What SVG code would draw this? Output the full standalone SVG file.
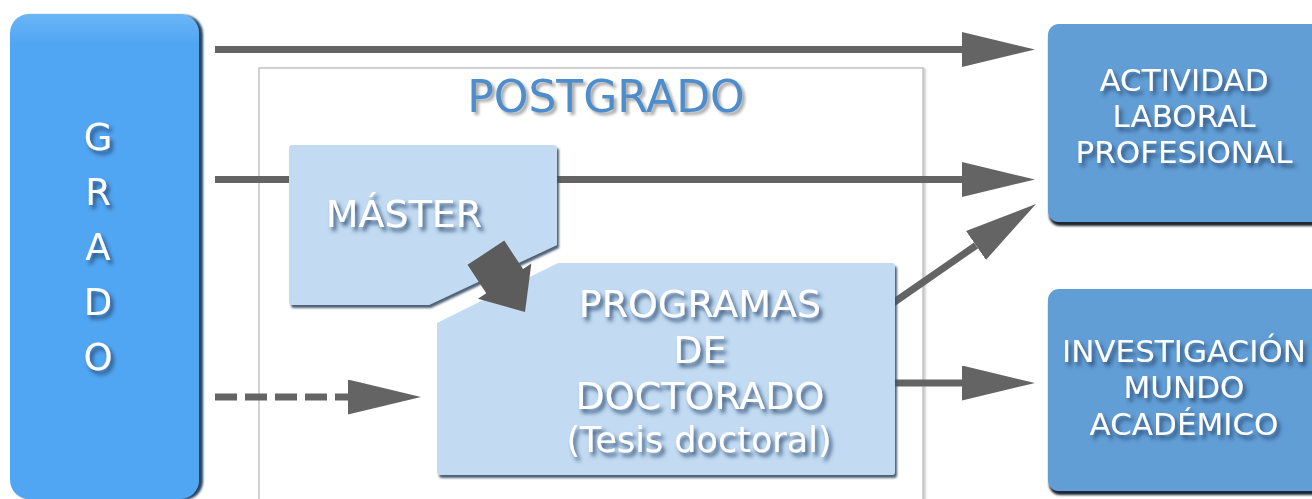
<svg xmlns="http://www.w3.org/2000/svg" width="1312" height="499" viewBox="0 0 1312 499">
<defs>
<style>
.txt{font-family:"DejaVu Sans","Liberation Sans",sans-serif;fill:#ffffff;text-anchor:middle;filter:url(#tshadow)}
.line{stroke:#646464;stroke-width:7;fill:none}
.box-light{fill:#c2dbf2;filter:url(#bshadow)}
.box-mid{fill:#629ed6;filter:url(#bshadow2)}
</style>
<filter id="tshadow" x="-20%" y="-40%" width="140%" height="180%">
<feGaussianBlur in="SourceAlpha" stdDeviation="2" result="b"/>
<feOffset in="b" dx="3" dy="3.5" result="o"/>
<feFlood flood-color="#27466e" flood-opacity="0.9"/>
<feComposite in2="o" operator="in" result="s"/>
<feMerge><feMergeNode in="s"/><feMergeNode in="SourceGraphic"/></feMerge>
</filter>
<filter id="pshadow" x="-20%" y="-40%" width="140%" height="180%">
<feGaussianBlur in="SourceAlpha" stdDeviation="1.6" result="b"/>
<feOffset in="b" dx="2.5" dy="3" result="o"/>
<feFlood flood-color="#707070" flood-opacity="0.6"/>
<feComposite in2="o" operator="in" result="s"/>
<feMerge><feMergeNode in="s"/><feMergeNode in="SourceGraphic"/></feMerge>
</filter>
<filter id="bshadow" x="-10%" y="-10%" width="120%" height="120%">
<feGaussianBlur in="SourceAlpha" stdDeviation="0.8" result="b"/>
<feOffset in="b" dx="2" dy="2.5" result="o"/>
<feFlood flood-color="#3a4f66" flood-opacity="0.9"/>
<feComposite in2="o" operator="in" result="s"/>
<feMerge><feMergeNode in="s"/><feMergeNode in="SourceGraphic"/></feMerge>
</filter>
<filter id="bshadow2" x="-10%" y="-10%" width="120%" height="120%">
<feGaussianBlur in="SourceAlpha" stdDeviation="1" result="b"/>
<feOffset in="b" dx="1" dy="4" result="o"/>
<feFlood flood-color="#0e1a26" flood-opacity="0.95"/>
<feComposite in2="o" operator="in" result="s"/>
<feMerge><feMergeNode in="s"/><feMergeNode in="SourceGraphic"/></feMerge>
</filter>
<filter id="gshadow" x="-10%" y="-10%" width="120%" height="120%">
<feGaussianBlur in="SourceAlpha" stdDeviation="1" result="b"/>
<feOffset in="b" dx="4" dy="1" result="o"/>
<feFlood flood-color="#1d3a5a" flood-opacity="0.95"/>
<feComposite in2="o" operator="in" result="s"/>
<feMerge><feMergeNode in="s"/><feMergeNode in="SourceGraphic"/></feMerge>
</filter>
<filter id="cshadow" x="-5%" y="-5%" width="110%" height="110%">
<feGaussianBlur in="SourceAlpha" stdDeviation="1" result="b"/>
<feOffset in="b" dx="1.5" dy="1" result="o"/>
<feFlood flood-color="#999999" flood-opacity="0.5"/>
<feComposite in2="o" operator="in" result="s"/>
<feMerge><feMergeNode in="s"/><feMergeNode in="SourceGraphic"/></feMerge>
</filter>
<linearGradient id="gradoFill" x1="0" y1="0" x2="0" y2="1">
<stop offset="0" stop-color="#6bb5f5"/>
<stop offset="0.06" stop-color="#51a6f3"/>
<stop offset="1" stop-color="#51a6f3"/>
</linearGradient>
<marker id="head" markerUnits="userSpaceOnUse" markerWidth="75" markerHeight="36" refX="0" refY="17.5" orient="auto">
<path d="M0,0 L73,17.5 L0,35 Z" fill="#646464"/>
</marker>
</defs>

<rect x="0" y="0" width="1312" height="499" fill="#ffffff"/>

<g id="postgrado">
<rect x="259" y="68" width="664" height="460" fill="#ffffff" stroke="#c4c4c4" stroke-width="1.5" filter="url(#cshadow)"/>
<text x="606" y="112" font-family="DejaVu Sans, Liberation Sans, sans-serif" font-size="44" fill="#4e8dcc" text-anchor="middle" filter="url(#pshadow)">POSTGRADO</text>
</g>

<g id="grado">
<rect x="10" y="14" width="189" height="485" rx="19" ry="19" fill="url(#gradoFill)" filter="url(#gshadow)"/>
<text class="txt" font-size="37" x="98" y="150">G</text>
<text class="txt" font-size="37" x="98" y="205">R</text>
<text class="txt" font-size="37" x="98" y="260">A</text>
<text class="txt" font-size="37" x="98" y="315">D</text>
<text class="txt" font-size="37" x="98" y="370">O</text>
</g>

<g id="connectors">
<line class="line" x1="215" y1="49.5" x2="962" y2="49.5" marker-end="url(#head)"/>
<line class="line" x1="215" y1="179.5" x2="962" y2="179.5" marker-end="url(#head)"/>
<line class="line" x1="215" y1="397" x2="348" y2="397" stroke-dasharray="22 8" marker-end="url(#head)"/>
<line class="line" x1="893" y1="303" x2="976" y2="245.5" marker-end="url(#head)"/>
<line class="line" x1="893" y1="383" x2="962" y2="383" marker-end="url(#head)"/>
</g>

<g id="master">
<path class="box-light" d="M292,145 L554,145 Q557,145 557,148 L557,245 L429,305 L292,305 Q289,305 289,302 L289,148 Q289,145 292,145 Z"/>
<text class="txt" font-size="38" x="404" y="227">MÁSTER</text>
</g>

<g id="doctorado">
<path class="box-light" d="M558,263 L892,263 Q895,263 895,266 L895,472 Q895,475 892,475 L440,475 Q437,475 437,472 L437,323 Z"/>
<text class="txt" font-size="38" x="700" y="317">PROGRAMAS</text>
<text class="txt" font-size="38" x="700" y="363">DE</text>
<text class="txt" font-size="38" x="700" y="409">DOCTORADO</text>
<text class="txt" font-size="35" x="699" y="452">(Tesis doctoral)</text>
</g>

<g id="master-arrow">
<polygon points="0,0 -37,-32 -37,-22 -71,-22 -71,22 -37,22 -37,32" fill="#5c5c5c" transform="translate(525,312) rotate(56.6)"/>
</g>

<g id="actividad">
<rect class="box-mid" x="1048" y="24" width="280" height="198" rx="11" ry="11"/>
<text class="txt" font-size="31" x="1184" y="91">ACTIVIDAD</text>
<text class="txt" font-size="31" x="1184" y="127">LABORAL</text>
<text class="txt" font-size="31" x="1184" y="163">PROFESIONAL</text>
</g>

<g id="investigacion">
<rect class="box-mid" x="1048" y="289" width="280" height="202" rx="11" ry="11"/>
<text class="txt" font-size="31" x="1184" y="362">INVESTIGACIÓN</text>
<text class="txt" font-size="31" x="1184" y="398">MUNDO</text>
<text class="txt" font-size="31" x="1184" y="435">ACADÉMICO</text>
</g>
</svg>
